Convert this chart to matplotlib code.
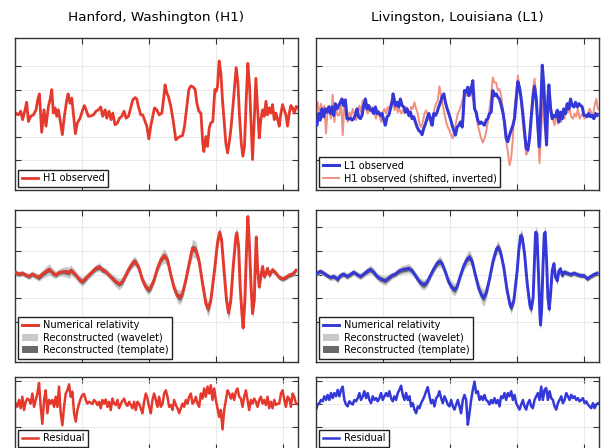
import numpy as np
import matplotlib
matplotlib.use("Agg")
import matplotlib.pyplot as plt

# ---------------- data (time in ms, strain in 1e-21) ----------------
h1_t = [250.0,252.5,254.2,255.7,257.5,258.7,260.0,261.7,263.7,265.7,
        266.9,268.2,269.9,271.6,273.1,274.9,276.1,277.4,278.6,279.9,
        281.1,282.3,283.6,285.3,286.8,288.6,289.6,291.0,292.3,293.5,
        295.0,296.5,298.5,300.5,301.7,303.0,304.7,306.5,308.5,310.4,
        312.2,313.9,315.4,317.2,318.4,320.1,321.6,322.9,324.6,326.4,
        327.9,329.6,331.3,332.8,334.6,336.3,337.8,339.6,340.8,342.0,
        343.8,345.3,346.5,348.3,349.8,351.2,352.7,354.0,355.7,357.5,
        359.5,360.7,361.9,363.2,364.4,366.2,368.2,369.9,371.4,373.1,
        374.9,376.4,378.1,379.6,381.1,383.1,384.3,385.6,387.1,388.6,
        390.0,390.8,392.3,393.5,394.8,396.0,397.5,399.0,400.0,401.0,
        402.2,403.5,404.7,406.0,407.2,408.5,410.0,411.2,412.9,414.9,
        416.2,417.4,418.7,419.9,421.1,422.4,423.6,424.9,426.1,427.1,
        428.4,429.6,430.8,432.1,433.3,434.6,435.8,437.1,438.3,439.6,
        440.8,442.0,443.3,444.5,445.8,447.0,448.3,449.5,450.7,452.0,
        453.2,454.5,455.7,457.0,458.2,459.7,461.0]
h1_obs = [0.01,-0.04,0.04,-0.14,0.07,0.23,-0.18,-0.07,-0.04,0.07,
          0.28,0.41,-0.41,0.07,-0.28,0.14,0.28,0.50,0.0,0.11,
          -0.07,0.07,-0.14,-0.46,-0.07,0.28,0.41,0.21,0.32,0.0,
          -0.44,-0.21,-0.11,0.07,0.16,0.07,-0.07,-0.06,-0.04,0.04,
          0.07,0.13,-0.07,0.07,-0.11,0.04,-0.14,0.0,-0.25,-0.21,
          -0.11,-0.07,0.04,-0.11,-0.07,0.11,0.28,0.33,0.30,0.14,
          -0.04,-0.04,-0.14,-0.28,-0.55,-0.28,-0.07,0.11,0.07,-0.04,
          0.0,0.28,0.60,0.43,0.35,0.14,-0.21,-0.57,-0.53,-0.50,
          -0.48,-0.28,0.14,0.50,0.58,0.55,0.50,0.21,0.04,0.0,
          -0.64,-0.82,-0.50,-0.71,-0.32,-0.21,-0.18,0.50,0.46,0.57,
          1.11,0.85,0.28,-0.21,-0.64,-0.85,-0.57,-0.28,0.28,0.97,
          0.64,-0.07,-0.64,-0.92,-0.71,0.28,1.06,0.57,-0.28,-0.99,
          -0.14,0.74,0.14,-0.53,-0.14,0.07,-0.07,0.25,-0.04,0.11,
          0.0,0.18,-0.14,0.0,-0.13,-0.28,0.0,0.18,0.07,-0.04,
          -0.28,0.0,0.16,0.11,0.0,0.14,0.11]

l1_t = [250.0,250.7,252.0,253.2,254.5,255.7,257.0,258.2,259.5,260.7,
        261.9,263.2,264.4,265.7,266.9,268.2,269.4,270.6,271.9,273.1,
        274.4,275.6,276.9,278.1,279.4,280.6,281.8,283.1,284.3,285.6,
        286.8,288.1,289.3,290.5,291.8,293.0,294.3,295.5,296.8,298.0,
        299.3,300.5,301.7,303.0,304.2,305.5,306.7,307.5,309.2,310.4,
        311.7,312.9,314.2,315.4,316.7,317.9,319.2,320.4,321.6,322.9,
        324.1,325.4,326.6,327.9,329.1,330.3,331.6,332.8,334.1,335.3,
        336.6,337.8,339.1,340.3,341.5,342.8,344.0,345.3,346.5,347.8,
        349.0,350.2,351.5,352.7,354.0,355.2,356.5,357.7,359.0,359.7,
        360.7,361.9,363.2,363.9,365.2,366.9,368.2,369.4,370.6,371.9,
        373.1,374.4,375.6,376.9,378.1,379.4,380.6,381.8,383.1,384.3,
        385.6,386.8,388.1,389.3,390.5,391.8,393.0,394.3,395.5,396.8,
        398.0,399.3,400.5,401.7,403.0,404.2,405.5,406.7,408.0,409.2,
        410.4,411.7,412.9,414.2,415.4,416.4,417.4,418.7,419.9,421.1,
        421.9,422.9,423.6,424.9,426.1,427.4,428.6,429.9,431.1,432.3,
        433.6,434.8,436.1,437.3,438.6,439.8,441.0,442.3,443.5,444.8,
        446.0,447.3,448.5,449.8,451.0,452.2,453.5,454.7,456.0,457.2,
        458.5,459.7]
l1_obs = [-0.23,-0.26,-0.01,-0.15,0.09,-0.08,0.09,0.02,0.13,-0.01,
          0.13,-0.05,0.20,0.09,0.16,0.23,0.30,0.16,0.28,-0.12,
          -0.13,-0.11,-0.15,-0.12,-0.04,0.09,-0.08,-0.12,-0.05,0.16,
          0.30,0.09,0.16,0.06,0.09,-0.01,0.13,-0.01,0.02,-0.05,
          -0.01,-0.15,-0.26,-0.08,-0.05,0.09,0.23,0.41,0.16,0.23,
          0.13,0.30,0.16,0.13,0.02,0.09,-0.05,0.02,-0.12,-0.08,
          -0.19,-0.30,-0.37,-0.40,-0.46,-0.33,-0.23,-0.12,-0.01,-0.11,
          -0.26,-0.01,-0.05,0.02,0.13,0.23,0.34,0.41,0.23,0.09,
          -0.01,-0.12,-0.26,-0.37,-0.47,-0.30,-0.26,-0.19,-0.30,-0.05,
          0.48,0.44,0.55,0.37,0.44,0.69,0.09,0.02,-0.15,-0.23,
          -0.19,-0.23,-0.26,-0.15,-0.12,-0.01,0.02,0.48,0.37,0.41,
          0.34,0.30,0.16,0.02,-0.19,-0.54,-0.61,-0.47,-0.37,-0.26,
          -0.12,0.30,0.67,0.55,0.30,-0.01,-0.40,-0.75,-0.79,-0.54,
          -0.12,0.30,0.57,0.30,-0.26,-0.72,-0.05,1.02,0.58,-0.26,
          -0.68,0.30,0.60,0.09,-0.12,-0.05,-0.08,0.06,-0.19,0.02,
          -0.12,0.09,-0.01,0.20,0.09,0.30,0.16,0.13,0.23,0.13,
          0.20,0.16,0.13,-0.05,-0.05,-0.08,-0.01,-0.08,-0.05,-0.12,
          -0.01,-0.05]

# H1 shifted / inverted and residuals: uniformly sampled, 1.2438 ms step
sample_step = 1.2438
h1_shift_t0 = 250.0
h1_shift = [0.02,0.23,-0.05,0.20,-0.01,0.16,-0.44,0.09,0.16,-0.12,
            0.39,-0.19,0.09,-0.05,-0.05,0.30,-0.47,0.16,0.23,-0.19,
            0.02,-0.08,0.09,-0.01,-0.15,-0.01,0.16,0.02,0.27,0.16,
            0.09,-0.01,0.16,0.02,0.13,0.02,-0.12,0.06,-0.05,-0.19,
            0.02,0.09,-0.01,0.13,0.09,0.23,0.30,0.06,0.16,0.02,
            0.09,-0.01,0.06,-0.01,0.13,0.02,-0.08,0.13,0.09,0.23,
            0.09,-0.01,-0.23,-0.30,-0.19,-0.01,0.06,-0.05,-0.15,-0.26,
            -0.12,0.09,0.20,0.27,0.57,0.37,0.16,-0.01,-0.19,-0.30,
            -0.37,-0.47,-0.54,-0.37,-0.19,-0.01,0.06,0.16,0.30,0.37,
            0.37,0.41,0.55,0.44,0.30,0.16,-0.05,-0.26,-0.40,-0.54,
            -0.63,-0.54,-0.40,-0.19,0.09,0.37,0.76,0.65,0.65,0.48,
            0.51,0.37,0.09,-0.26,-0.61,-0.82,-1.11,-0.96,-0.54,0.09,
            0.44,0.80,0.51,0.23,-0.19,-0.54,-0.89,-0.82,-0.54,0.02,
            0.51,0.73,0.37,-0.40,-1.07,-0.40,0.37,-0.26,-0.54,0.16,
            0.37,0.09,-0.12,-0.26,0.02,-0.23,-0.01,-0.19,0.09,-0.12,
            0.16,0.02,0.09,-0.08,-0.12,-0.01,-0.08,0.09,-0.12,-0.05,
            -0.01,-0.12,-0.05,-0.01,0.09,0.02,-0.08,0.16,0.30,0.09]

res_h1_t0 = 250.5
res_h1 = [0.01,-0.06,0.09,-0.09,0.16,-0.13,0.05,0.12,0.09,0.01,
          0.23,-0.06,0.09,0.23,0.46,-0.06,-0.43,0.09,0.30,-0.20,
          0.09,0.01,0.09,-0.06,0.16,-0.06,0.38,-0.20,-0.46,-0.06,
          0.23,0.30,0.43,0.16,0.27,-0.20,-0.38,-0.13,0.01,0.12,
          0.20,0.22,0.09,0.01,0.05,0.03,0.0,0.09,0.05,-0.02,
          0.05,-0.09,0.09,0.01,0.10,-0.06,0.05,-0.13,0.12,0.01,
          -0.02,0.09,-0.09,0.0,0.07,0.12,0.01,-0.04,0.05,-0.02,
          -0.09,0.05,-0.13,0.05,0.0,-0.09,-0.20,0.05,0.23,0.12,
          -0.06,-0.20,0.09,0.23,0.09,-0.06,0.16,-0.06,0.0,0.23,
          0.30,0.16,-0.06,-0.02,-0.13,0.09,-0.02,-0.09,-0.20,-0.09,
          0.01,-0.06,0.09,0.01,0.16,0.23,0.01,0.05,0.16,0.01,
          -0.06,0.23,0.12,0.34,0.16,0.38,0.23,0.41,0.09,0.34,
          0.09,-0.09,-0.28,-0.13,-0.55,-0.13,0.09,0.30,0.23,0.12,
          0.23,0.09,0.27,0.34,0.16,0.12,-0.06,0.16,0.30,0.09,
          -0.13,0.09,0.01,0.12,0.05,-0.06,0.09,0.16,0.01,0.09,
          -0.02,0.16,-0.09,0.05,-0.09,0.09,-0.02,0.01,0.01,0.23,
          0.30,0.09,-0.06,0.16,0.12,-0.06,0.23,0.16,0.01,0.0]

res_l1_t0 = 250.0
res_l1 = [-0.12,-0.01,0.02,0.09,0.06,0.17,0.09,0.20,0.09,0.24,
          0.13,0.24,0.17,0.31,0.17,0.31,0.38,0.09,-0.01,-0.05,
          0.06,0.02,-0.01,0.09,0.06,0.13,0.24,0.09,0.17,0.28,
          0.13,0.24,0.09,0.02,0.17,0.09,0.13,0.06,0.13,0.24,
          0.09,0.17,0.24,0.17,0.28,0.13,0.06,0.17,0.09,0.24,
          0.31,0.40,0.20,0.09,0.24,0.09,0.17,-0.05,0.02,-0.12,
          -0.20,-0.05,-0.09,0.02,0.09,0.17,0.28,0.37,0.17,0.02,
          0.09,-0.05,0.13,0.17,0.28,0.13,0.02,0.17,0.09,-0.01,
          -0.05,0.09,-0.05,-0.12,-0.01,0.09,-0.05,-0.20,0.09,0.20,
          0.09,-0.45,-0.20,0.09,0.31,0.49,0.24,0.28,0.09,0.17,
          0.09,0.20,0.09,0.06,-0.01,0.09,0.02,0.13,0.02,0.09,
          -0.05,0.17,0.13,0.24,0.09,0.24,0.17,0.28,0.09,0.20,
          0.02,-0.05,-0.12,-0.01,0.09,-0.05,-0.12,0.02,0.09,-0.05,
          -0.09,0.09,0.17,0.24,0.09,0.38,0.09,0.31,0.35,0.09,
          0.28,0.13,0.09,-0.05,-0.12,0.02,0.09,0.17,0.02,0.09,
          0.24,0.17,0.09,0.20,0.13,0.17,0.09,0.13,0.06,0.09,
          0.13,0.02,0.06,-0.01,-0.05,-0.09,0.02,-0.09,-0.01,0.02]

nr_h1_t = [250.5,253.0,255.5,258.0,260.4,262.9,265.4,267.9,270.4,272.9,
           275.4,277.9,280.3,282.8,285.3,287.8,290.3,291.5,292.8,295.3,
           297.8,300.2,302.7,305.2,307.7,310.2,312.7,315.2,317.7,320.1,
           322.6,325.1,327.6,330.1,332.6,335.1,337.6,338.8,340.0,342.5,
           345.0,347.5,349.5,351.2,353.7,356.2,358.7,361.2,363.7,366.2,
           368.7,371.1,373.1,374.9,377.4,379.9,382.3,384.8,387.3,389.8,
           392.3,394.0,396.0,398.5,401.0,402.5,404.0,406.0,407.7,409.2,
           410.9,412.7,414.7,415.4,416.7,417.9,419.2,420.1,421.4,422.6,
           423.6,424.6,425.9,427.1,428.4,429.1,429.9,430.8,432.1,433.3,
           434.6,435.8,437.1,438.3,439.6,442.0,444.5,447.0,449.5,452.0,
           454.5,457.0,459.5]
nr_h1 = [0.04,0.01,0.03,-0.01,-0.04,0.01,-0.03,-0.06,0.01,0.06,
         0.11,0.04,-0.01,0.04,0.06,0.06,0.04,0.09,0.06,-0.01,
         -0.10,-0.15,-0.08,-0.01,0.06,0.13,0.16,0.10,0.06,-0.01,
         -0.08,-0.15,-0.20,-0.15,-0.01,0.13,0.24,0.28,0.26,0.13,
         -0.11,-0.26,-0.32,-0.27,-0.11,0.13,0.31,0.40,0.31,-0.01,
         -0.29,-0.45,-0.48,-0.40,-0.11,0.24,0.56,0.52,0.28,-0.18,
         -0.61,-0.73,-0.54,0.03,0.67,0.89,0.74,0.03,-0.54,-0.81,
         -0.54,0.17,0.81,0.88,0.60,-0.26,-0.82,-1.12,-0.54,0.52,
         1.22,0.74,-0.18,-0.82,-0.54,0.17,0.79,0.17,-0.26,-0.04,
         0.17,-0.04,0.03,0.13,-0.01,0.10,0.03,-0.06,-0.09,-0.06,
         -0.01,0.01,0.09]
wav_h1_hw = [0.07,0.06,0.06,0.06,0.07,0.07,0.07,0.08,0.09,0.11,
             0.12,0.10,0.08,0.08,0.09,0.11,0.12,0.12,0.10,0.09,
             0.09,0.10,0.09,0.08,0.08,0.08,0.09,0.08,0.08,0.08,
             0.09,0.11,0.12,0.10,0.09,0.09,0.10,0.11,0.10,0.10,
             0.10,0.11,0.11,0.10,0.10,0.10,0.13,0.15,0.12,0.10,
             0.11,0.14,0.15,0.13,0.11,0.13,0.19,0.18,0.12,0.11,
             0.14,0.16,0.13,0.12,0.13,0.13,0.12,0.12,0.15,0.17,
             0.14,0.12,0.12,0.12,0.11,0.11,0.12,0.12,0.11,0.11,
             0.12,0.11,0.11,0.11,0.11,0.10,0.10,0.10,0.09,0.09,
             0.08,0.08,0.08,0.07,0.07,0.07,0.06,0.06,0.06,0.06,
             0.06,0.06,0.06]
tmp_h1_hw = [0.04,0.04,0.04,0.04,0.04,0.04,0.04,0.05,0.05,0.05,
             0.05,0.05,0.04,0.04,0.04,0.05,0.05,0.05,0.05,0.04,
             0.05,0.05,0.05,0.04,0.04,0.05,0.05,0.05,0.04,0.04,
             0.05,0.05,0.05,0.05,0.05,0.05,0.06,0.06,0.06,0.05,
             0.05,0.06,0.06,0.06,0.05,0.05,0.06,0.06,0.06,0.05,
             0.06,0.06,0.07,0.06,0.05,0.06,0.07,0.07,0.06,0.05,
             0.06,0.07,0.06,0.05,0.06,0.07,0.06,0.05,0.06,0.07,
             0.06,0.05,0.06,0.06,0.06,0.06,0.06,0.07,0.06,0.06,
             0.07,0.06,0.06,0.06,0.06,0.06,0.06,0.06,0.05,0.05,
             0.05,0.05,0.05,0.05,0.05,0.04,0.04,0.04,0.04,0.04,
             0.04,0.04,0.04]

nr_l1_t = [250.7,253.2,255.7,258.2,260.7,263.2,266.2,268.2,270.6,273.1,
           275.6,278.1,280.6,283.1,285.6,288.1,290.5,293.0,295.5,298.0,
           301.7,304.2,306.7,309.2,311.7,314.2,319.2,321.6,324.1,326.6,
           328.9,330.8,332.8,335.3,337.8,340.3,342.3,344.0,346.5,349.0,
           351.5,353.5,355.2,357.7,360.2,362.7,364.4,366.4,368.9,371.4,
           373.9,375.1,377.1,379.6,382.1,384.6,385.8,387.6,390.0,392.5,
           394.5,395.5,397.5,400.0,401.2,402.5,403.7,405.5,407.5,409.5,
           410.4,411.9,412.9,413.7,414.7,415.9,416.9,417.4,418.2,419.2,
           420.2,420.9,421.9,422.9,423.9,424.9,426.1,427.4,428.6,429.9,
           431.1,432.3,433.6,434.8,437.3,439.8,442.3,444.8,447.3,449.8,
           452.2,454.7,457.2,459.7]
nr_l1 = [0.03,0.07,0.03,-0.02,-0.06,-0.04,-0.10,-0.02,0.01,-0.04,
         0.0,0.05,0.0,-0.04,0.01,0.07,0.11,0.05,-0.04,-0.09,
         -0.13,-0.07,-0.02,0.01,0.07,0.10,0.13,0.08,-0.02,-0.13,
         -0.20,-0.21,-0.16,-0.02,0.12,0.24,0.28,0.23,0.05,-0.16,
         -0.28,-0.32,-0.25,-0.02,0.19,0.33,0.37,0.28,-0.02,-0.30,
         -0.46,-0.49,-0.37,-0.06,0.30,0.54,0.58,0.47,0.15,-0.34,
         -0.62,-0.70,-0.55,0.08,0.51,0.82,0.79,0.44,-0.20,-0.65,
         -0.73,-0.48,0.30,0.89,0.86,0.01,-0.83,-1.06,-0.76,0.15,
         0.86,0.89,0.30,-0.48,-0.73,-0.41,0.08,0.23,-0.06,-0.13,
         0.08,0.12,-0.02,0.05,0.03,0.0,0.03,0.0,-0.02,-0.02,
         -0.09,-0.04,0.0,0.03]
wav_l1_hw = [0.06,0.06,0.06,0.06,0.07,0.07,0.08,0.07,0.07,0.07,
             0.07,0.07,0.07,0.07,0.07,0.08,0.09,0.09,0.08,0.09,
             0.10,0.09,0.07,0.07,0.08,0.09,0.10,0.09,0.08,0.10,
             0.11,0.11,0.10,0.09,0.09,0.10,0.12,0.10,0.09,0.11,
             0.13,0.13,0.11,0.10,0.11,0.14,0.15,0.12,0.11,0.14,
             0.17,0.18,0.15,0.11,0.12,0.13,0.14,0.12,0.11,0.13,
             0.13,0.13,0.11,0.11,0.12,0.13,0.13,0.11,0.11,0.12,
             0.12,0.11,0.11,0.12,0.12,0.11,0.11,0.12,0.11,0.11,
             0.12,0.12,0.11,0.11,0.11,0.10,0.10,0.09,0.08,0.08,
             0.08,0.07,0.07,0.07,0.06,0.06,0.06,0.06,0.06,0.06,
             0.06,0.06,0.06,0.06]
tmp_l1_hw = [0.04,0.04,0.04,0.04,0.04,0.04,0.05,0.04,0.04,0.04,
             0.04,0.04,0.04,0.04,0.04,0.05,0.05,0.05,0.05,0.05,
             0.05,0.05,0.04,0.04,0.05,0.05,0.05,0.05,0.05,0.05,
             0.06,0.06,0.05,0.05,0.05,0.06,0.06,0.05,0.05,0.06,
             0.06,0.06,0.06,0.05,0.06,0.06,0.07,0.06,0.05,0.06,
             0.07,0.07,0.06,0.05,0.06,0.07,0.07,0.07,0.05,0.06,
             0.07,0.07,0.06,0.05,0.06,0.07,0.07,0.06,0.05,0.06,
             0.07,0.06,0.05,0.06,0.06,0.06,0.06,0.07,0.06,0.05,
             0.06,0.06,0.06,0.06,0.06,0.06,0.05,0.05,0.05,0.05,
             0.05,0.05,0.05,0.05,0.04,0.04,0.04,0.04,0.04,0.04,
             0.04,0.04,0.04,0.04]

titles = ["Hanford, Washington (H1)", "Livingston, Louisiana (L1)"]
x_ticks = [300, 350, 400, 450]

# ---------------- style ----------------
RED = "#e4392c"
BLUE = "#3538d8"
PINK = "#f0907e"
LGRAY = "#c9c9c9"
DGRAY = "#6a6a6a"

fig = plt.figure(figsize=(6.01, 4.48), dpi=100)
W, H = 601.0, 448.0
col_x = [15, 316]
col_w = 283
rows = [(38, 190), (210, 362), (377, 450)]


def make_ax(col, row):
    x0 = col_x[col]
    top, bot = rows[row]
    ax = fig.add_axes([x0 / W, 1 - bot / H, col_w / W, (bot - top) / H])
    ax.set_xlim(250, 461)
    ax.set_xticks(x_ticks)
    ax.grid(True, color="#e6e6e6", linewidth=0.6)
    ax.set_axisbelow(True)
    ax.tick_params(direction="in", top=True, right=True, labelleft=False,
                   labelbottom=False, length=4, width=0.8, color="#333333")
    for s in ax.spines.values():
        s.set_color("#333333")
        s.set_linewidth(1.0)
    return ax


def leg(ax, **kw):
    lg = ax.legend(loc="lower left", fontsize=7, fancybox=False, framealpha=1,
                   edgecolor="#222222", borderpad=0.35, handlelength=1.7,
                   labelspacing=0.25, borderaxespad=0.35, handletextpad=0.5, **kw)
    lg.get_frame().set_linewidth(1.0)
    return lg


def uniform_t(t0, n):
    return t0 + sample_step * np.arange(n)


# --- top row
ax = make_ax(0, 0)
ax.plot(h1_t, h1_obs, color=RED, lw=2.0, label="H1 observed")
ax.set_ylim(-1.64, 1.6)
ax.set_yticks([-1, -0.5, 0, 0.5, 1])
ax.set_title(titles[0], fontsize=9.7, pad=12)
leg(ax)

ax = make_ax(1, 0)
ax.plot(l1_t, l1_obs, color=BLUE, lw=2.2, label="L1 observed", zorder=3)
ax.plot(uniform_t(h1_shift_t0, len(h1_shift)), h1_shift, color=PINK, lw=1.4,
        label="H1 observed (shifted, inverted)", zorder=2)
ax.set_ylim(-1.64, 1.6)
ax.set_yticks([-1, -0.5, 0, 0.5, 1])
ax.set_title(titles[1], fontsize=9.7, pad=12)
leg(ax)

# --- middle row
for col, (t, nr, wav, tmp, c) in enumerate([
        (nr_h1_t, nr_h1, wav_h1_hw, tmp_h1_hw, RED),
        (nr_l1_t, nr_l1, wav_l1_hw, tmp_l1_hw, BLUE)]):
    ax = make_ax(col, 1)
    t = np.asarray(t)
    nr = np.asarray(nr)
    wav = np.asarray(wav)
    tmp = np.asarray(tmp)
    ax.plot(t, nr, color=c, lw=2.1, label="Numerical relativity", zorder=4)
    ax.fill_between(t, nr - wav, nr + wav, color=LGRAY, lw=0,
                    label="Reconstructed (wavelet)", zorder=2)
    ax.fill_between(t, nr - tmp, nr + tmp, color=DGRAY, lw=0,
                    label="Reconstructed (template)", zorder=3)
    ax.set_ylim(-1.84, 1.36)
    ax.set_yticks([-1, -0.5, 0, 0.5, 1])
    leg(ax)

# --- bottom row
for col, (t0, r, c) in enumerate([(res_h1_t0, res_h1, RED), (res_l1_t0, res_l1, BLUE)]):
    ax = make_ax(col, 2)
    ax.plot(uniform_t(t0, len(r)), r, color=c, lw=1.8, label="Residual")
    ax.set_ylim(-1.0, 0.59)
    ax.set_yticks([-0.5, 0, 0.5])
    leg(ax)

fig.savefig("out.png", dpi=100)
